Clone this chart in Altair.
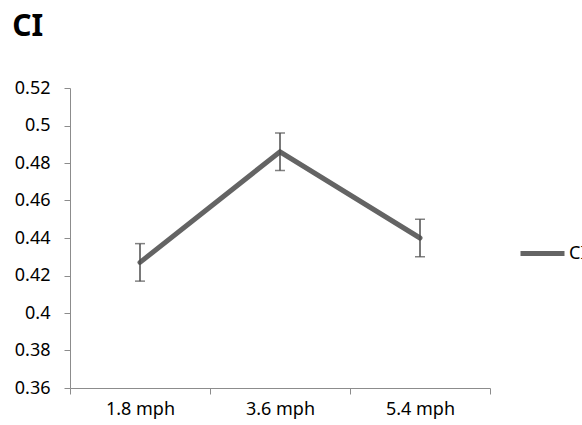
import altair as alt
import pandas as pd

categories = ["1.8 mph", "3.6 mph", "5.4 mph"]
means = [0.427, 0.486, 0.440]
errors = [0.010, 0.010, 0.010]
series = ["CI", "CI", "CI"]
y_ticks = [0.36, 0.38, 0.40, 0.42, 0.44, 0.46, 0.48, 0.50, 0.52]

df = pd.DataFrame({"speed": categories, "value": means, "err": errors, "series": series})

FONT = "Noto Sans"
AXIS_GRAY = "#8c8c8c"
LINE_GRAY = "#646464"

x_enc = alt.X(
    "speed:N",
    sort=categories,
    scale=alt.Scale(paddingInner=0, paddingOuter=0),
    axis=alt.Axis(
        title=None, labelAngle=0, tickBand="extent", domainColor=AXIS_GRAY,
        tickColor=AXIS_GRAY, tickSize=6, labelPadding=6, labelFontSize=18,
        labelFont=FONT, labelColor="#000000", grid=False,
    ),
)
y_scale = alt.Scale(domain=[0.36, 0.52], nice=False, zero=False)
y_axis = alt.Axis(
    title=None, values=y_ticks, format=".2~f", grid=False, labelOverlap=False,
    domainColor=AXIS_GRAY, tickColor=AXIS_GRAY, tickSize=6, labelPadding=14,
    labelFontSize=18, labelFont=FONT, labelColor="#000000",
)

base = alt.Chart(df).transform_calculate(
    lo="datum.value - datum.err", hi="datum.value + datum.err"
)

rules = base.mark_rule(color="#4d4d4d", strokeWidth=1.5).encode(
    x=x_enc,
    y=alt.Y("lo:Q", scale=y_scale, axis=y_axis),
    y2="hi:Q",
)
caps_lo = base.mark_tick(color="#4d4d4d", thickness=1.5, size=10).encode(
    x=x_enc, y=alt.Y("lo:Q", scale=y_scale, axis=y_axis)
)
caps_hi = base.mark_tick(color="#4d4d4d", thickness=1.5, size=10).encode(
    x=x_enc, y=alt.Y("hi:Q", scale=y_scale, axis=y_axis)
)
line = base.mark_line(strokeWidth=5, strokeCap="round", strokeJoin="miter").encode(
    x=x_enc,
    y=alt.Y("value:Q", scale=y_scale, axis=y_axis),
    color=alt.Color("series:N", scale=alt.Scale(domain=["CI"], range=[LINE_GRAY]),
                    legend=alt.Legend(title=None, orient="none", legendX=448, legendY=141,
                                      symbolType="stroke", symbolSize=1936,
                                      symbolStrokeWidth=5, labelFontSize=18,
                                      labelFont=FONT, labelOffset=2,
                                      labelColor="#000000")),
)

chart = alt.layer(line, rules, caps_lo, caps_hi).properties(
    width=420,
    height=300,
    title=alt.TitleParams("CI", anchor="start", fontSize=30, fontWeight="bold",
                          font=FONT, dx=-2, offset=37, color="#000000"),
    autosize=alt.AutoSizeParams(type="none"),
    padding={"left": 70, "top": 88, "right": 92, "bottom": 37},
).configure_view(stroke=None)

chart.save("out.html", embed_options={"renderer": "svg", "actions": False})
